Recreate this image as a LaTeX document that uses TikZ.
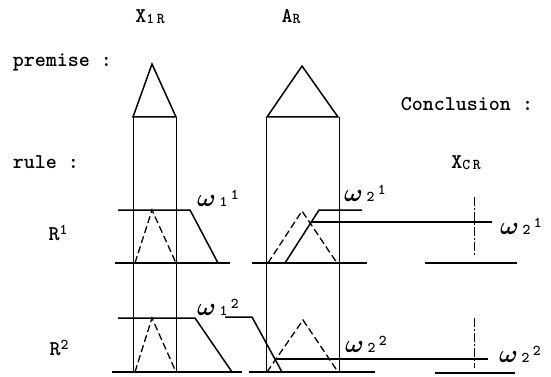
\documentclass[tikz,border=0pt]{standalone}
\usepackage{fontspec}
\usetikzlibrary{positioning}
\tikzset{
  every picture/.style={font=\ttfamily\bfseries\fontsize{21}{25}\selectfont, line width=1.5pt},
  lbl/.style={inner sep=0pt},
  hdr/.style={inner sep=0pt, anchor=west},
  guide/.style={line width=0.8pt},
  memb/.style={line width=1.3pt, dash pattern=on 7pt off 3.5pt},
  cut/.style={line width=0.8pt, dash pattern=on 9pt off 2pt on 2pt off 2pt},
}
% small index then raised index, as in the scan
\newcommand{\idx}[1]{{\fontsize{15}{15}\selectfont #1}}
\newcommand{\wlab}[2]{{\fontsize{23}{25}\selectfont\boldmath$\omega$}\,\idx{#1}\,\raisebox{7pt}{\idx{#2}}}

\begin{document}
\begin{tikzpicture}[x=1pt, y=-1pt]
  \useasboundingbox (0,0) rectangle (551,377);
  % headings
  \node[lbl] (x1r) at (150,17) {X\raisebox{-1pt}{\idx{1\,R}}};
  \node[lbl] (ar) at (291,17) {A\raisebox{-1pt}{\idx{R}}};
  \node[hdr] (prem) at (12,62) {premise :};
  \node[hdr] (rule) at (12,162) {rule :};
  \node[hdr] (concl) at (400,104) {Conclusion :};
  \node[lbl] (xcr) at (466,163) {X\raisebox{-1pt}{\idx{C\,R}}};
  \node[lbl] (r1) at (58,233) {R\raisebox{6pt}{\idx{1}}};
  \node[lbl] (r2) at (59,348) {R\raisebox{6pt}{\idx{2}}};
  % premise sets and their columns
  \draw (133,117) -- (152,64) -- (176,117) -- cycle;
  \draw (267,117) -- (302,66) -- (338,117) -- cycle;
  \draw[guide] (133,117) -- (133,373) (176,117) -- (176,373);
  \draw[guide] (266,117) -- (266,373) (339,117) -- (339,373);
  % rule R1
  \draw (115,263) -- (230,263);
  \draw (118,210) -- (190,210) -- (218,263);
  \draw[memb] (135,263) -- (152,210) -- (176,263);
  \node[lbl] (w11) at (218,198) {\wlab{1}{1}};
  \draw (252,263) -- (367,263);
  \draw[memb] (268,263) -- (302,211) -- (337,263);
  \draw (285,263) -- (319,210) -- (362,210);
  \node[lbl] (w21a) at (365,193) {\wlab{2}{1}};
  \coordinate (h1) at (311,222);
  \coordinate (e1) at (492,222);
  \draw (h1) -- (e1);
  \draw (425,263) -- (517,263);
  \draw[cut] (474,197) -- (474,257);
  \node[lbl] (w21b) at (521,226) {\wlab{2}{1}};
  % rule R2
  \draw (112,372) -- (242,372);
  \draw (118,318) -- (195,318) -- (232,372);
  \draw[memb] (135,372) -- (152,318) -- (176,372);
  \node[lbl] (w12) at (218,307) {\wlab{1}{2}};
  \draw (225,317) -- (252,317) -- (282,372);
  \draw (249,372) -- (375,372);
  \draw[memb] (267,372) -- (303,320) -- (338,372);
  \node[lbl] (w22a) at (366,344) {\wlab{2}{2}};
  \coordinate (h2) at (275,359);
  \coordinate (e2) at (488,359);
  \draw (h2) -- (e2);
  \draw (435,373) -- (515,373);
  \draw[cut] (474,318) -- (474,368);
  \node[lbl] (w22b) at (520,354) {\wlab{2}{2}};
\end{tikzpicture}
\end{document}
